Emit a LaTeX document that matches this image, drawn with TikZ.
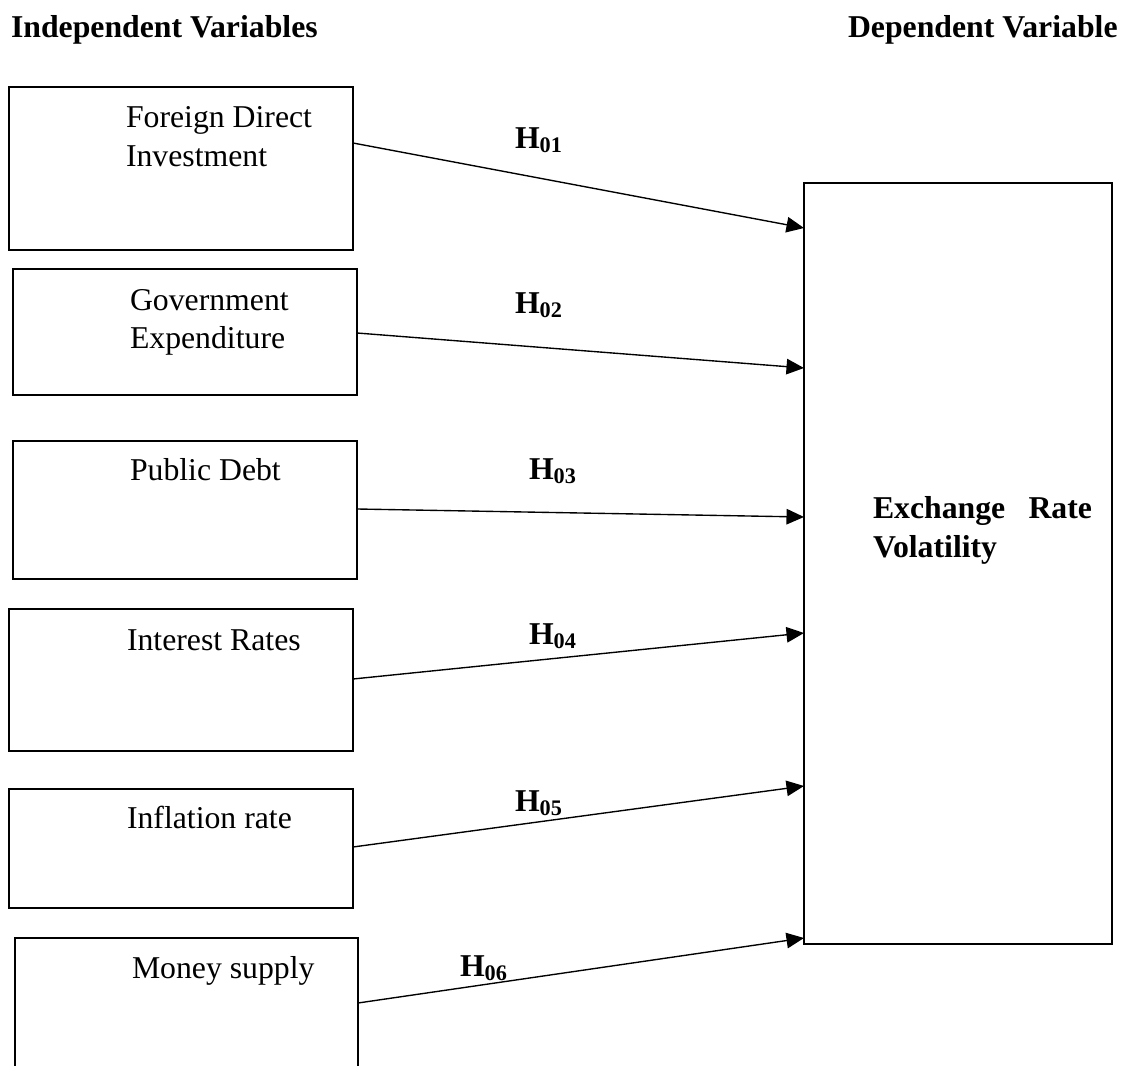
\documentclass[tikz,border=0pt]{standalone}
\usepackage{fontspec}
\setmainfont{Liberation Serif}
\usetikzlibrary{arrows.meta}
\begin{document}
\begin{tikzpicture}[x=0.4pt,y=-0.4pt,
  box/.style={draw, line width=0.8pt, inner sep=0pt, outer sep=0pt},
  txt/.style={anchor=base west, inner sep=0pt, outer sep=0pt,
    font=\fontsize{12.7pt}{15.6pt}\selectfont},
  btxt/.style={txt, font=\fontsize{12.7pt}{15.6pt}\selectfont\bfseries},
  arr/.style={line width=0.55pt, -{Triangle[length=7pt,width=6.2pt]}}]
\useasboundingbox (0,0) rectangle (1129,1066);
% headers
\node[btxt] (hind) at (11,38) {Independent Variables};
\node[btxt] (hdep) at (848,38) {Dependent Variable};
% boxes
\node[box, minimum width=344*0.4pt, minimum height=163*0.4pt] (b1) at (181,168.5) {};
\node[box, minimum width=344*0.4pt, minimum height=126*0.4pt] (b2) at (185,332) {};
\node[box, minimum width=344*0.4pt, minimum height=138*0.4pt] (b3) at (185,510) {};
\node[box, minimum width=344*0.4pt, minimum height=142*0.4pt] (b4) at (181,680) {};
\node[box, minimum width=344*0.4pt, minimum height=119*0.4pt] (b5) at (181,848.5) {};
\node[box, minimum width=343*0.4pt, minimum height=152*0.4pt] (b6) at (186.5,1014) {};
\node[box, minimum width=308*0.4pt, minimum height=761*0.4pt] (R) at (958,563.5) {};
% box texts
\node[txt] (t1a) at (126,127) {Foreign Direct};
\node[txt] (t1b) at (126,167) {Investment};
\node[txt] (t2a) at (130,310) {Government};
\node[txt] (t2b) at (130,348) {Expenditure};
\node[txt] (t3) at (130,480) {Public Debt};
\node[txt] (t4) at (127,650) {Interest Rates};
\node[txt] (t5) at (127,828) {Inflation rate};
\node[txt] (t6) at (132,978) {Money supply};
\node[btxt] (tRa) at (873,518) {\makebox[87.6pt][s]{Exchange Rate}};
\node[btxt] (tRb) at (873,557) {Volatility};
% arrows
\draw[arr] (b1.east |- 0,143) -- (R.west |- 0,228);
\draw[arr] (b2.east |- 0,333) -- (R.west |- 0,368);
\draw[arr] (b3.east |- 0,509) -- (R.west |- 0,517);
\draw[arr] (b4.east |- 0,679) -- (R.west |- 0,633);
\draw[arr] (b5.east |- 0,847) -- (R.west |- 0,786);
\draw[arr] (b6.east |- 0,1003) -- (R.west |- 0,938);
% hypothesis labels
\node[btxt] (h1) at (515,148) {H\textsubscript{01}};
\node[btxt] (h2) at (515,313) {H\textsubscript{02}};
\node[btxt] (h3) at (529,479) {H\textsubscript{03}};
\node[btxt] (h4) at (529,644) {H\textsubscript{04}};
\node[btxt] (h5) at (515,811) {H\textsubscript{05}};
\node[btxt] (h6) at (460,976) {H\textsubscript{06}};
\end{tikzpicture}
\end{document}
